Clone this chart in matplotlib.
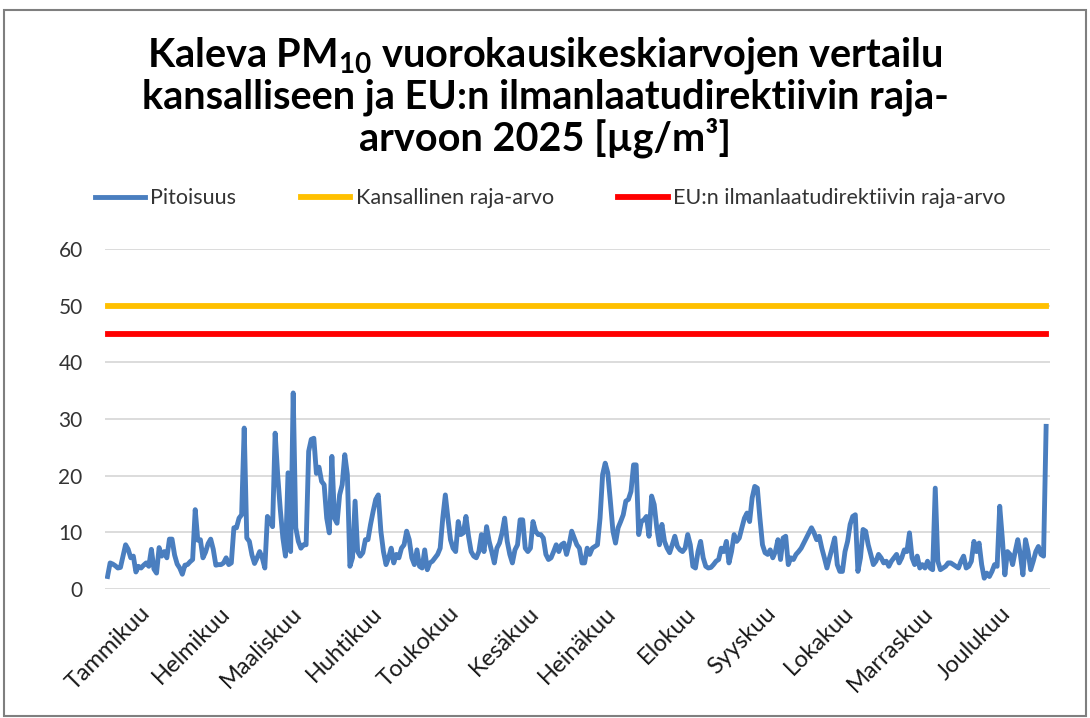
import numpy as np
import pandas as pd
import matplotlib
matplotlib.use("Agg")
import matplotlib.pyplot as plt
import matplotlib.dates as mdates
from matplotlib.patches import Rectangle

plt.rcParams["font.family"] = ["Lato", "DejaVu Sans"]

# daily PM10 means 2025, one value per day
jan_mar = [2.2, 4.6, 4.4, 4.1, 3.7, 3.8, 5.8, 7.8, 7.0, 5.5,
           5.8, 3.0, 4.0, 3.7, 4.2, 4.6, 4.0, 7.0, 3.5, 2.8,
           7.3, 5.8, 6.6, 5.5, 8.8, 8.8, 6.0, 4.4, 3.7, 2.6,
           4.2, 4.3, 4.8, 5.2, 14.0, 8.6, 8.7, 5.5, 6.5, 8.0,
           8.8, 7.0, 4.2, 4.3, 4.3, 4.6, 5.5, 4.3, 4.6, 10.8,
           10.8, 12.5, 13.1, 28.4, 9.0, 8.4, 6.0, 4.5, 5.5, 6.6,
           5.5, 3.7, 12.8, 12.0, 11.0, 27.5, 20.0, 14.0, 9.0, 5.8,
           20.5]
mar_may = [6.6, 34.6, 10.8, 8.4, 7.2, 7.8, 7.8, 24.3, 26.4, 26.6,
           20.4, 21.5, 19.0, 18.4, 12.5, 9.9, 23.4, 12.5, 11.6, 16.6,
           18.4, 23.7, 20.2, 4.0, 5.5, 15.5, 6.6, 5.8, 6.4, 8.7,
           8.7, 11.4, 13.7, 15.8, 16.6, 10.2, 6.6, 4.3, 5.5, 7.2,
           4.6, 6.1, 5.5, 7.2, 7.8, 10.2, 8.7, 5.5, 4.3, 6.9,
           4.0, 3.7, 6.9, 3.4, 4.6, 4.9, 5.5, 6.1, 7.2, 12.5,
           16.6, 12.5, 8.7, 7.2, 6.6, 11.9, 9.6, 9.9, 12.8, 9.3,
           6.6, 5.8]
may_aug = [5.5, 6.6, 9.6, 6.6, 11.0, 8.4, 6.6, 4.6, 7.2,
           8.1, 9.9, 12.5, 8.4, 6.1, 4.6, 6.9, 7.8, 12.2, 12.2,
           7.2, 6.6, 7.2, 11.9, 10.2, 9.6, 9.6, 9.0, 6.1, 5.2,
           5.5, 6.6, 7.8, 6.6, 7.8, 8.1, 6.1, 7.8, 10.2, 9.0,
           7.8, 7.2, 4.6, 4.6, 7.2, 6.1, 7.2, 7.5, 7.8,
           12.5, 20.2, 22.2, 20.5, 15.5, 10.2, 8.1, 10.8, 11.9,
           13.1, 15.5, 15.8, 17.2, 21.9, 21.9, 9.6, 11.9, 12.2, 12.8,
           9.3, 16.4, 14.9, 10.8, 7.8]
aug_oct = [11.4, 8.4, 7.2, 6.4, 7.8, 9.3, 7.5, 6.9, 6.6,
           7.2, 9.6, 7.8, 4.0, 3.7, 6.6, 8.4, 5.5, 4.0, 3.7,
           3.8, 4.3, 4.9, 5.2, 7.2, 6.6, 8.4, 4.6, 6.6, 9.6,
           8.4, 9.0, 10.8, 12.5, 13.4, 11.9, 16.1, 18.1, 17.8,
           12.5, 7.8, 6.4, 6.1, 6.9, 5.5, 6.6, 8.7, 5.2, 9.0,
           9.3, 4.3, 5.5, 5.2, 6.1, 6.6, 7.2, 8.1, 9.0,
           9.9, 10.8, 9.9, 8.7, 9.3, 7.2, 5.5, 3.7, 5.5, 7.2,
           9.0, 4.3, 3.1, 3.1]
oct_dec = [6.6, 8.4, 11.4, 12.8, 13.1, 3.1, 5.5, 10.5, 10.2, 7.8,
           6.1, 4.3, 4.9, 6.1, 5.5, 4.6, 4.9, 4.0, 4.9, 5.5,
           6.1, 4.6, 5.5, 6.9, 6.6, 9.9, 5.5, 4.3, 5.8, 3.7,
           4.3, 3.7, 4.9, 3.7, 3.4, 17.8, 4.9, 3.4, 3.7, 4.0,
           4.6, 4.6, 4.3, 4.0, 3.7, 4.9, 5.8, 3.7, 4.0, 4.9,
           8.4, 6.6, 8.1, 4.3, 1.9, 2.8, 2.2, 3.1, 4.3, 4.0,
           14.6, 9.0, 2.5, 6.6, 6.1, 4.3, 6.6, 8.7, 6.1, 2.5,
           8.7, 6.6, 3.4, 4.9, 6.6, 7.5, 6.1, 5.8,
           28.7]
pitoisuus = jan_mar + mar_may + may_aug + aug_oct + oct_dec

kansallinen_raja = 50
eu_raja = 45

kuukaudet = ["Tammikuu", "Helmikuu", "Maaliskuu", "Huhtikuu", "Toukokuu",
             "Kesäkuu", "Heinäkuu", "Elokuu", "Syyskuu", "Lokakuu",
             "Marraskuu", "Joulukuu"]

dates = pd.date_range("2025-01-01", periods=len(pitoisuus), freq="D")

fig = plt.figure(figsize=(10.9, 7.18), dpi=100)
ax = fig.add_axes([0.0963, 0.1797, 0.867, 0.4735])

ax.plot(dates, pitoisuus, color="#4a7ebf", lw=3.5, solid_joinstyle="round",
        label="Pitoisuus", zorder=3)
ax.plot(dates, np.full(len(dates), kansallinen_raja), color="#ffc000", lw=4.2,
        label="Kansallinen raja-arvo", zorder=3)
ax.plot(dates, np.full(len(dates), eu_raja), color="#ff0000", lw=4.2,
        label="EU:n ilmanlaatudirektiivin raja-arvo", zorder=3)

ax.set_ylim(0, 60)
ax.set_yticks(range(0, 61, 10))
ax.set_xlim(dates[0] - pd.Timedelta(days=1), dates[-1] + pd.Timedelta(days=1.5))
ax.grid(axis="y", color="#d9d9d9", lw=1.3)
ax.set_axisbelow(True)
for s in ax.spines.values():
    s.set_visible(False)

ax.xaxis.set_major_locator(mdates.MonthLocator(bymonthday=16))
ax.set_xticklabels(kuukaudet)
ax.tick_params(axis="x", length=0, pad=15, labelsize=17, labelcolor="#1a1a1a")
ax.tick_params(axis="y", length=0, pad=16, labelsize=15, labelcolor="#333333")
for lab in ax.get_xticklabels():
    lab.set_rotation(45)
    lab.set_ha("right")
    lab.set_va("center")
    lab.set_rotation_mode("anchor")

title_lines = [r"Kaleva PM$_\mathregular{10}$ vuorokausikeskiarvojen vertailu",
               "kansalliseen ja EU:n ilmanlaatudirektiivin raja-",
               "arvoon 2025 [µg/m³]"]
for i, line in enumerate(title_lines):
    fig.text(0.5, 1 - (66 + 42 * i) / 718, line, ha="center", va="baseline",
             fontsize=28.5, fontweight="bold", color="#000000")

ax.legend(loc="center", bbox_to_anchor=(0.505, 0.724), bbox_transform=fig.transFigure,
          ncol=3, frameon=False, fontsize=15.5, handlelength=2.3, handletextpad=0.25,
          columnspacing=3.0, labelcolor="#333333")

fig.patches.append(Rectangle((4 / 1090, 2 / 718), 1082 / 1090, 706 / 718,
                             transform=fig.transFigure, fill=False,
                             edgecolor="#7f7f7f", lw=1.5))

fig.savefig("out.png", dpi=100)
